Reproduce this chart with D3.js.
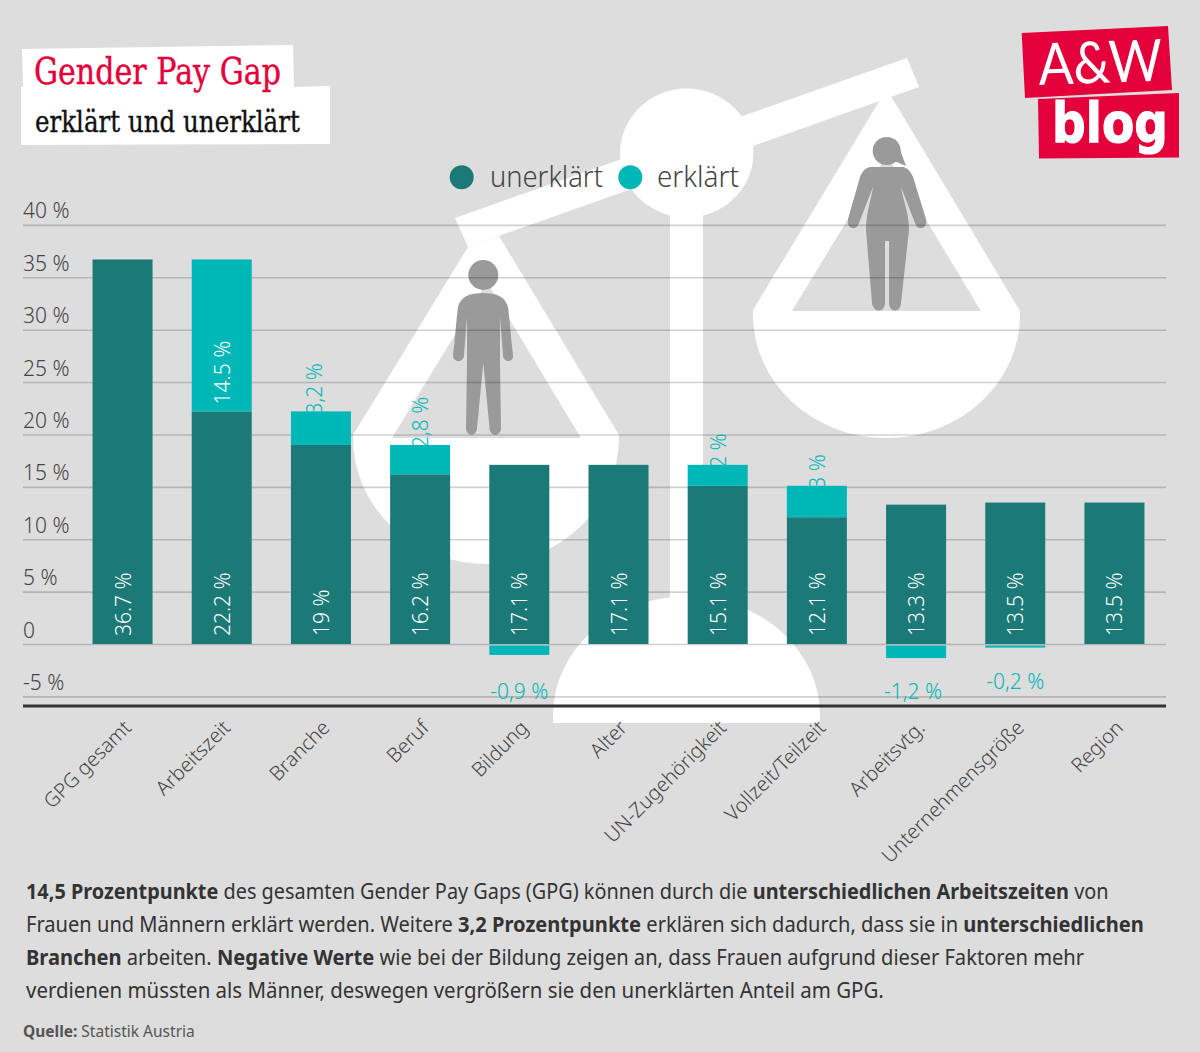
<!DOCTYPE html>
<html><head><meta charset="utf-8">
<script src="https://cdn.jsdelivr.net/npm/d3@7"></script>
<style>
html,body{margin:0;padding:0;background:#dddddd;}
svg{display:block;}
text{font-family:"Noto Sans",Lato,sans-serif;}
.domain{display:none;}
</style></head><body>
<svg id="c" width="1200" height="1052"></svg>
<script>
const categories=["GPG gesamt","Arbeitszeit","Branche","Beruf","Bildung","Alter","UN-Zugehörigkeit","Vollzeit/Teilzeit","Arbeitsvtg.","Unternehmensgröße","Region"];
const unerklaert=[36.7,22.2,19,16.2,17.1,17.1,15.1,12.1,13.3,13.5,13.5];
const erklaert=[0,14.5,3.2,2.8,-0.9,0,2,3,-1.2,-0.2,0];
const unerklaertLabels=["36.7 %","22.2 %","19 %","16.2 %","17.1 %","17.1 %","15.1 %","12.1 %","13.3 %","13.5 %","13.5 %"];
const erklaertLabels=["","14.5 %","3,2 %","2,8 %","-0,9 %","","2 %","3 %","-1,2 %","-0,2 %",""];
const yTicks=[-5,0,5,10,15,20,25,30,35,40];
const legendItems=["unerklärt","erklärt"];
const bodyLines=[
 [["14,5 Prozentpunkte",1],[" des gesamten Gender Pay Gaps (GPG) können durch die ",0],["unterschiedlichen Arbeitszeiten",1],[" von",0]],
 [["Frauen und Männern erklärt werden. Weitere ",0],["3,2 Prozentpunkte",1],[" erklären sich dadurch, dass sie in ",0],["unterschiedlichen",1]],
 [["Branchen",1],[" arbeiten. ",0],["Negative Werte",1],[" wie bei der Bildung zeigen an, dass Frauen aufgrund dieser Faktoren mehr",0]],
 [["verdienen müssten als Männer, deswegen vergrößern sie den unerklärten Anteil am GPG.",0]]
];
const bodyWidths=[1083,1118,1059,858];

const DARK="#1b7a78",TEAL="#00b7b8",RED="#e4003a",TXT="#444444";
const svg=d3.select("#c");
const fit=(sel,w)=>{const n=sel.node();const l=n.getComputedTextLength();const x=+sel.attr("x")||0;const y=+sel.attr("y")||0;
  sel.attr("transform",`translate(${x},${y}) scale(${w/l},1) translate(${-x},${-y})`);};

// background scale pictogram
const deco=svg.append("g").attr("fill","#fff");
deco.append("ellipse").attr("cx",686.7).attr("cy",153).attr("rx",66.7).attr("ry",64.5);
deco.append("rect").attr("x",670).attr("y",200).attr("width",33).attr("height",420);
deco.append("path").attr("d","M553,723 L553,715 A133,118 0 0 1 820,715 L820,723 Z");
deco.append("path").attr("d","M455,218 L907,58 L919,87 L468,247 Z");
deco.append("path").attr("fill-rule","evenodd").attr("d","M468,247 L499,236 L619,435 L619,438 A133,126 0 0 1 353,438 L353,435 Z M487,282 L392,438 L581,438 Z");
deco.append("path").attr("fill-rule","evenodd").attr("d","M880,100 L891,96 L1020,311 L1020,315 A133.5,123 0 0 1 753,315 L753,310 Z M887,155 L792,311 L981,311 Z");
const person=svg.append("g").attr("fill","#9a9a9a");
person.append("circle").attr("cx",483.3).attr("cy",275).attr("r",15);
person.append("path").attr("d","M483,293 C470,293 461,296 458,307 C456,322 455,340 453,355 C453,363 464,363 464,355 L467,317 L467,363 L466,428 C466,437 477,437 477,428 L483.3,363 L489.5,428 C489.5,437 501,437 501,428 L500,363 L500,317 L503,355 C503,363 514,363 513,355 C511,340 510,322 508,307 C505,296 496,293 483,293 Z");
person.append("circle").attr("cx",886.7).attr("cy",151).attr("r",14);
person.append("path").attr("d","M895,139 C899,146 902,155 906,166 L892,160 Z");
person.append("path").attr("d","M887,167 L870,167 C865,168 862,172 860,177 L848,219 C846,230 857,231 859,223 L873,187 C871,200 866,212 866,230 L872,303 C873,313 885,313 885,303 L885,241 L889,241 L889,303 C889,313 901,313 901,303 L909,230 C909,212 903,200 901,187 L915,223 C917,231 928,230 926,219 L913,177 C911,172 908,168 903,167 Z");

// scales
const y=d3.scaleLinear().domain([-5,40]).range([696.4,224.9]);
const x=d3.scaleBand().domain(categories).range([73,1164]).paddingInner(0.395).paddingOuter(0.197);
const W=300, FS=21;

// grid + y labels
const yAxis=d3.axisLeft(y).tickValues(yTicks).tickSize(0).tickFormat(d=>d===0?"0":d+" %");
const gy=svg.append("g").attr("transform","translate(23,0)").call(yAxis);
gy.selectAll(".tick line").attr("x1",0).attr("x2",1143).attr("stroke","#000").attr("stroke-opacity",0.18).attr("stroke-width",1.6);
gy.selectAll(".tick text").attr("x",0).attr("y",-7).attr("dy",0).attr("text-anchor","start").attr("fill",TXT).attr("font-size",FS).attr("font-weight",W);

// labels behind the bars
const rows=categories.map((c,i)=>({c,u:unerklaert[i],e:erklaert[i],ul:unerklaertLabels[i],el:erklaertLabels[i]}));
const cx=d=>x(d.c)+x.bandwidth()/2;
svg.append("g").selectAll("text").data(rows.filter(d=>d.e>0&&d.e<10)).join("text")
  .attr("transform",d=>`translate(${cx(d)+8-(d.el==="3,2 %"?7:0)},${y(d.u+d.e)+3}) rotate(-90)`)
  .attr("fill",TEAL).attr("font-size",FS).attr("font-weight",W).text(d=>d.el);

// bars
svg.append("g").selectAll("rect").data(rows).join("rect")
  .attr("x",d=>x(d.c)).attr("width",x.bandwidth()).attr("y",d=>y(d.u)).attr("height",d=>y(0)-y(d.u)).attr("fill",DARK);
svg.append("g").selectAll("rect").data(rows.filter(d=>d.e!==0)).join("rect")
  .attr("x",d=>x(d.c)).attr("width",x.bandwidth())
  .attr("y",d=>d.e>0?y(d.u+d.e):y(0)+1.5).attr("height",d=>Math.abs(y(d.e)-y(0)))
  .attr("fill",TEAL);

// labels on the bars
svg.append("g").selectAll("text").data(rows).join("text")
  .attr("transform",d=>`translate(${cx(d)+8},${y(0)-8}) rotate(-90)`)
  .attr("fill","#fff").attr("font-size",FS).attr("font-weight",W).text(d=>d.ul);
svg.append("g").selectAll("text").data(rows.filter(d=>d.e>=10)).join("text")
  .attr("transform",d=>`translate(${cx(d)+8},${y(d.u)-7}) rotate(-90)`)
  .attr("fill","#fff").attr("font-size",FS).attr("font-weight",W).text(d=>d.el);
svg.append("g").selectAll("text").data(rows.filter(d=>d.e<0)).join("text")
  .attr("x",d=>cx(d)-(d.el==="-1,2 %"?3:0)).attr("y",d=>d.e<-0.5?698.5:689).attr("text-anchor","middle")
  .attr("fill",TEAL).attr("font-size",FS).attr("font-weight",W).text(d=>d.el);

// x axis
const gx=svg.append("g").attr("transform","translate(0,706)").call(d3.axisBottom(x).tickSize(0));
gx.selectAll(".tick text").attr("transform","translate(5,18) rotate(-45)").attr("y",0).attr("dy",".35em").attr("text-anchor","end").attr("fill",TXT).attr("font-size",20).attr("font-weight",W);
svg.append("rect").attr("x",23).attr("y",704.5).attr("width",1143).attr("height",3).attr("fill","#333");

// legend
const lg=svg.append("g");
[[461.7,490,113,DARK],[630.3,657,82,TEAL]].forEach((p,i)=>{
  lg.append("circle").attr("cx",p[0]).attr("cy",177.3).attr("r",12).attr("fill",p[3]);
  const t=lg.append("text").attr("x",p[1]).attr("y",187).attr("fill",TXT).attr("font-size",29).attr("font-weight",W).text(legendItems[i]);
  fit(t,p[2]);
});

// title
svg.append("path").attr("d","M22,49 L293,45 L294,87 L330,86 L330,144 L21,145 L21,87 L23,87 Z").attr("fill","#fff");
fit(svg.append("text").attr("x",34).attr("y",84).attr("fill",RED).attr("stroke",RED).attr("stroke-width",0.4).attr("font-size",37).style("font-family","'DejaVu Serif'").text("Gender Pay Gap"),247);
fit(svg.append("text").attr("x",35).attr("y",132).attr("fill","#111").attr("stroke","#111").attr("stroke-width",0.4).attr("font-size",30).style("font-family","'DejaVu Serif'").text("erklärt und unerklärt"),265);

// logo
svg.append("path").attr("d","M1021.7,33 L1168,26 L1172,90 L1025,98 Z").attr("fill",RED);
svg.append("path").attr("d","M1038,99 L1179,93 L1179,157.5 L1039,158.5 Z").attr("fill",RED);
const aw=svg.append("text").attr("x",1039).attr("y",85).attr("fill","#fff").attr("font-size",58).attr("font-weight",400).style("font-family","Lato").text("A&W");
fit(aw,124);
aw.attr("transform","rotate(-2 1039 85) "+aw.attr("transform"));
fit(svg.append("text").attr("x",1052).attr("y",142).attr("fill","#fff").attr("stroke","#fff").attr("stroke-width",1.2).attr("font-size",56).attr("font-weight",700).style("font-family","'DejaVu Sans'").text("blog"),116);

// body
bodyLines.forEach((ln,i)=>{
  const t=svg.append("text").attr("x",26).attr("y",899+i*33).attr("fill","#333").attr("font-size",21);
  ln.forEach(s=>t.append("tspan").attr("font-weight",s[1]?700:400).style("white-space","pre").text(s[0]));
  fit(t,bodyWidths[i]);
});
const src=svg.append("text").attr("x",23).attr("y",1037).attr("fill","#555").attr("font-size",16);
src.append("tspan").attr("font-weight",700).text("Quelle:");
src.append("tspan").attr("dx",4).text("Statistik Austria");
fit(src,168);
</script></body></html>
